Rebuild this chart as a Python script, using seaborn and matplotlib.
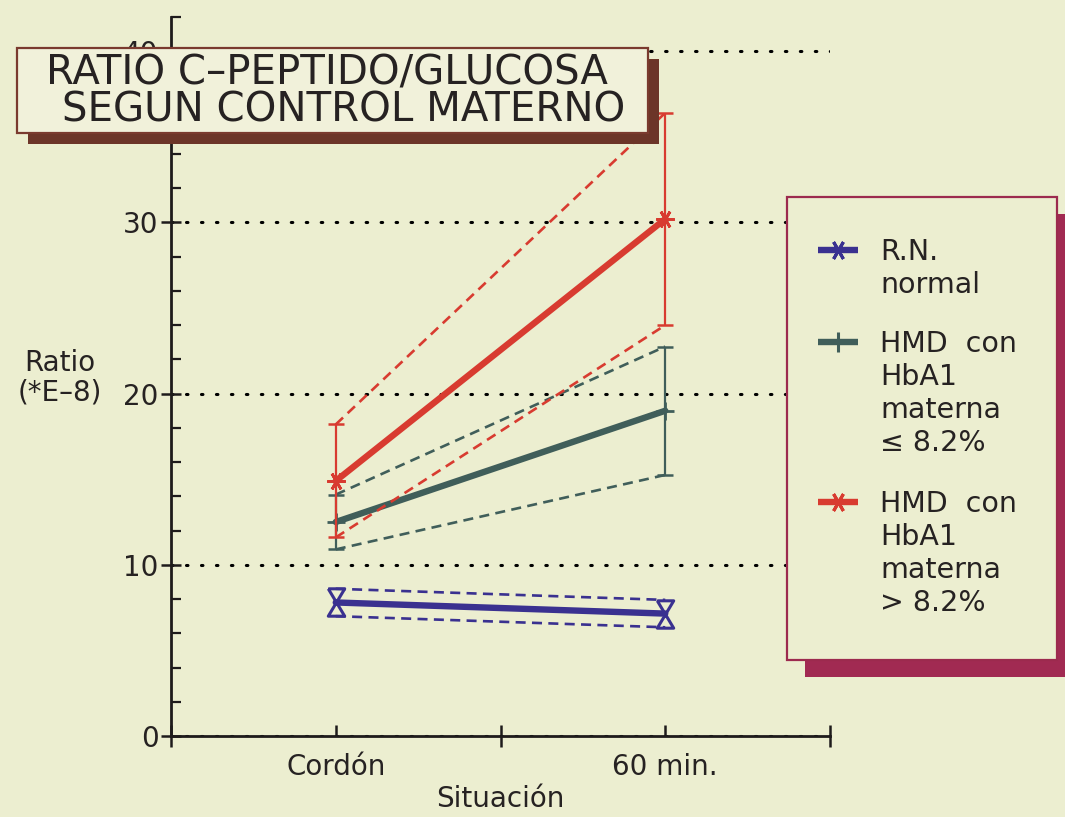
import numpy as np
import pandas as pd
import seaborn as sns
import matplotlib
matplotlib.use("Agg")
import matplotlib.pyplot as plt
from matplotlib.patches import Rectangle
from matplotlib.lines import Line2D
from matplotlib.path import Path
from matplotlib.ticker import MultipleLocator, FixedLocator

# --- datos ---------------------------------------------------------------
situaciones = ["Cordón", "60 min."]
grupos = ["R.N. normal", "HMD con HbA1 materna ≤ 8.2%", "HMD con HbA1 materna > 8.2%"]
etiquetas_leyenda = [
    ["R.N.", "normal"],
    ["HMD  con", "HbA1", "materna", "≤ 8.2%"],
    ["HMD  con", "HbA1", "materna", "> 8.2%"],
]
normal_media = [7.8, 7.15]
normal_err = [0.8, 0.8]
hba1_baja_media = [12.5, 19.0]
hba1_baja_err = [1.6, 3.75]
hba1_alta_media = [14.9, 30.2]
hba1_alta_err = [3.3, 6.2]

medias = [normal_media, hba1_baja_media, hba1_alta_media]
errores = [normal_err, hba1_baja_err, hba1_alta_err]
colores = ["#3a3190", "#405e5a", "#d83b30"]

BG = "#eceed0"
W, H = 1065, 817
DPI = 100

sns.set_theme(style="white", rc={
    "axes.facecolor": BG,
    "figure.facecolor": BG,
    "savefig.facecolor": BG,
    "xtick.bottom": True,
    "ytick.left": True,
})
plt.rcParams["font.family"] = ["DejaVu Sans"]
TXT = "#262222"
AX = "#1e1b1b"

posiciones = [1 + 2 * i for i in range(len(situaciones))]

filas = []
for g, med in zip(grupos, medias):
    for p, m in zip(posiciones, med):
        filas.append({"grupo": g, "pos": p, "valor": m})
df = pd.DataFrame(filas)

fig = plt.figure(figsize=(W / DPI, H / DPI), dpi=DPI)
ax = fig.add_axes([171 / W, 1 - 736 / H, 659 / W, (736 - 17) / H])

ax.set_xlim(0, 4)
ax.set_ylim(0, 42)

# dotted reference lines
ax.yaxis.set_major_locator(MultipleLocator(10))
ax.yaxis.set_minor_locator(MultipleLocator(2))
ax.grid(axis="y", which="major", color="black", linestyle=(0, (0.5, 4.4)),
        linewidth=2.2, dash_capstyle="round")
ax.set_axisbelow(True)

# mean lines
sns.lineplot(data=df, x="pos", y="valor", hue="grupo", hue_order=grupos,
             palette=colores, linewidth=4.6, legend=False, ax=ax, sort=False,
             zorder=3)

px_per_unit = 719 / 42.0

for i, (g, med, err, c) in enumerate(zip(grupos, medias, errores, colores)):
    med = np.array(med)
    err = np.array(err)
    z = 3 + i
    # upper / lower bounds joined with dashed lines
    ax.plot(posiciones, med + err, color=c, lw=1.9, ls=(0, (3.8, 2.4)), zorder=z)
    ax.plot(posiciones, med - err, color=c, lw=1.9, ls=(0, (3.8, 2.4)), zorder=z)
    if i == 0:
        # hourglass marker spanning the error interval
        hour = Path([(-0.6, 1), (0.6, 1), (-0.6, -1), (0.6, -1), (-0.6, 1)])
        for p, m, e in zip(posiciones, med, err):
            ms = 2 * e * px_per_unit * 72 / DPI
            ax.plot([p], [m], marker=hour, markersize=ms, mfc="none",
                    mec=c, mew=2.2, ls="none", zorder=z + 1)
    else:
        ax.errorbar(posiciones, med, yerr=err, fmt="none", ecolor=c,
                    elinewidth=1.6, capsize=6, capthick=1.8, zorder=z)
        mk = "+" if i == 1 else (6, 2, 90)
        ax.plot(posiciones, med, marker=mk, markersize=13, mec=c, mew=2,
                ls="none", zorder=z + 1)

# axes styling
for s in ["top", "right"]:
    ax.spines[s].set_visible(False)
for s in ["left", "bottom"]:
    ax.spines[s].set_color(AX)
    ax.spines[s].set_linewidth(2)

ax.xaxis.set_major_locator(FixedLocator(posiciones))
ax.xaxis.set_minor_locator(FixedLocator([0, 2, 4]))
ax.set_xticklabels(situaciones)
ax.tick_params(axis="x", which="both", bottom=True)
ax.tick_params(axis="y", which="both", left=True)
ax.tick_params(axis="x", which="major", direction="in", length=8, width=1.8,
               color=AX, labelsize=20, labelcolor=TXT, pad=12)
ax.tick_params(axis="x", which="minor", direction="inout", length=16, width=1.8,
               color=AX)
ax.tick_params(axis="y", which="major", direction="inout", length=14, width=1.8,
               color=AX, labelsize=20, labelcolor=TXT, pad=2)
ax.tick_params(axis="y", which="minor", direction="in", length=7, width=1.6,
               color=AX)
ax.set_xlabel("Situación", fontsize=20, color=TXT, labelpad=3)
ax.set_ylabel("")
fig.text(60 / W, 1 - 378 / H, "Ratio\n(*E–8)", ha="center", va="center",
         fontsize=20, color=TXT, linespacing=1.05)


def fx(x):
    return x / W


def fy(y):
    return 1 - y / H


# title box with shadow
tb = (17, 48, 648, 133)
fig.add_artist(Rectangle((fx(tb[0] + 11), fy(tb[3] + 11)), fx(tb[2] - tb[0]),
                         (tb[3] - tb[1]) / H, transform=fig.transFigure,
                         facecolor="#6c3528", edgecolor="none", zorder=10))
fig.add_artist(Rectangle((fx(tb[0]), fy(tb[3])), fx(tb[2] - tb[0]),
                         (tb[3] - tb[1]) / H, transform=fig.transFigure,
                         facecolor="#f1f1da", edgecolor="#7a3a2e", lw=1.6,
                         zorder=11))
fig.text(fx(327), fy(74), "RATIO C–PEPTIDO/GLUCOSA", ha="center", va="center",
         fontsize=29, color=TXT, zorder=12)
fig.text(fx(344), fy(111), "SEGUN CONTROL MATERNO", ha="center", va="center",
         fontsize=29, color=TXT, zorder=12)

# legend box with shadow
lb = (787, 197, 1057, 660)
fig.add_artist(Rectangle((fx(lb[0] + 18), fy(lb[3] + 17)), fx(lb[2] - lb[0]),
                         (lb[3] - lb[1]) / H, transform=fig.transFigure,
                         facecolor="#a12a52", edgecolor="none", zorder=10))
fig.add_artist(Rectangle((fx(lb[0]), fy(lb[3])), fx(lb[2] - lb[0]),
                         (lb[3] - lb[1]) / H, transform=fig.transFigure,
                         facecolor=BG, edgecolor="#9c2a4e", lw=1.6, zorder=11))

entrada_y = [250, 342, 502]
marcas_leyenda = [(6, 2, 90), "+", (6, 2, 90)]
for lineas, y0, c, mk in zip(etiquetas_leyenda, entrada_y, colores, marcas_leyenda):
    fig.add_artist(Line2D([fx(818), fx(858)], [fy(y0), fy(y0)],
                          transform=fig.transFigure, color=c, lw=4.6,
                          solid_capstyle="butt", zorder=12))
    fig.add_artist(Line2D([fx(838)], [fy(y0)], transform=fig.transFigure,
                          color=c, marker=mk, markersize=14, mew=2.2,
                          ls="none", zorder=13))
    for k, t in enumerate(lineas):
        fig.text(fx(880), fy(y0 + 10 + 33 * k), t, ha="left", va="baseline",
                 fontsize=20.5, color=TXT, zorder=12)

fig.savefig("out.png", dpi=DPI)
